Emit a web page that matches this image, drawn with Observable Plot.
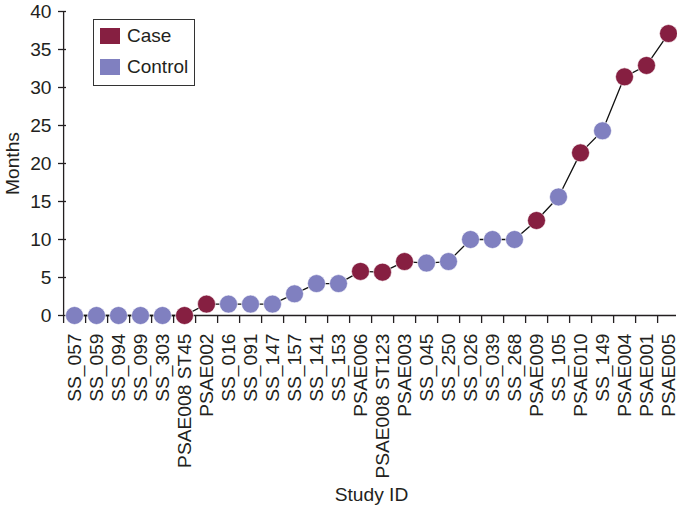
<!DOCTYPE html>
<html>
<head>
<meta charset="utf-8">
<script src="https://cdn.jsdelivr.net/npm/d3@7"></script>
<script src="https://cdn.jsdelivr.net/npm/@observablehq/plot@0.6"></script>
<style>
  html, body { margin: 0; padding: 0; background: #fff; }
  #wrap { position: relative; width: 677px; height: 507px; font-family: "Liberation Sans", Arial, sans-serif; }
  #wrap svg text { font-size: 19.2px; }
  #legend { position: absolute; left: 93px; top: 19px; width: 102px; height: 67px; border: 1.3px solid #333; background: #fff; box-sizing: border-box; }
  .item { position: absolute; left: 6px; display: flex; align-items: center; font-size: 19px; color: #231f20; }
  .sw { width: 20px; height: 16px; margin-right: 7px; }
</style>
</head>
<body>
<div id="wrap"></div>
<script>
const ids = ["SS_057","SS_059","SS_094","SS_099","SS_303","PSAE008 ST45","PSAE002","SS_016","SS_091","SS_147","SS_157","SS_141","SS_153","PSAE006","PSAE008 ST123","PSAE003","SS_045","SS_250","SS_026","SS_039","SS_268","PSAE009","SS_105","PSAE010","SS_149","PSAE004","PSAE001","PSAE005"];
const months = [0,0,0,0,0,0,1.5,1.5,1.5,1.5,2.85,4.2,4.2,5.8,5.7,7.1,6.9,7.1,10,10,10,12.5,15.6,21.4,24.3,31.4,32.9,37.1];
const groups = ["Control","Control","Control","Control","Control","Case","Case","Control","Control","Control","Control","Control","Control","Case","Case","Case","Control","Control","Control","Control","Control","Case","Control","Case","Control","Case","Case","Case"];
const groupNames = ["Case","Control"];
const groupColors = ["#861f41","#8080c0"];
const yTicks = [0,5,10,15,20,25,30,35,40];
const yLabel = "Months";
const xLabel = "Study ID";

const data = ids.map((id, i) => ({id, months: months[i], group: groups[i]}));

const W = 677, H = 507, mL = 66, mR = 1, mT = 11, mB = 192;
const bw = (W - mL - mR) / ids.length;
const ink = "#231f20";

const chart = Plot.plot({
  width: W, height: H,
  marginLeft: mL, marginRight: mR, marginTop: mT, marginBottom: mB,
  style: {fontFamily: "'Liberation Sans', Arial, sans-serif", fontSize: "19px", color: ink, background: "#fff"},
  x: {domain: ids, padding: 0, axis: null},
  y: {domain: [0, 40], axis: null},
  color: {domain: groupNames, range: groupColors},
  marks: [
    Plot.axisY({ticks: yTicks, tickSize: 8, tickPadding: 7, label: null, stroke: ink, strokeWidth: 1.3}),
    Plot.text([yLabel], {frameAnchor: "left", textAnchor: "middle", dx: -54, rotate: -90, text: d => d, fill: ink}),
    Plot.axisX({tickSize: 8, tickFormat: () => "", dx: -bw / 2, label: null, stroke: ink, strokeWidth: 1.3}),
    Plot.axisX({ticks: [ids[ids.length - 1]], tickSize: 8, tickFormat: () => "", dx: bw / 2, label: null, stroke: ink, strokeWidth: 1.3}),
    Plot.axisX({tickSize: 0, tickPadding: 18, tickRotate: -90, label: xLabel, labelAnchor: "center", labelOffset: 185}),
    Plot.ruleY([0], {stroke: ink, strokeWidth: 1.3}),
    Plot.ruleX([ids[0]], {y1: 0, y2: 40, dx: -bw / 2, stroke: ink, strokeWidth: 1.3}),
    Plot.line(data, {x: "id", y: "months", stroke: "#111", strokeWidth: 1.3}),
    Plot.dot(data, {x: "id", y: "months", r: 9, fill: "group", stroke: "#fff", strokeWidth: 0.6})
  ]
});
const wrap = document.getElementById("wrap");
wrap.appendChild(chart);

const legend = document.createElement("div");
legend.id = "legend";
groupNames.forEach((g, i) => {
  const it = document.createElement("div");
  it.className = "item";
  it.style.top = (5 + i * 31) + "px";
  const sw = document.createElement("div");
  sw.className = "sw";
  sw.style.background = groupColors[i];
  const tx = document.createElement("span");
  tx.textContent = g;
  it.appendChild(sw); it.appendChild(tx);
  legend.appendChild(it);
});
wrap.appendChild(legend);
</script>
</body>
</html>
